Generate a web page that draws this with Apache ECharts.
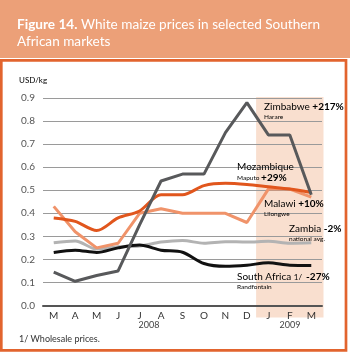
<!DOCTYPE html>
<html>
<head>
<meta charset="utf-8">
<script src="https://cdn.jsdelivr.net/npm/echarts@6/dist/echarts.min.js"></script>
<style>
  html, body { margin: 0; padding: 0; background: #fff; }
  #chart { width: 350px; height: 353px; }
</style>
</head>
<body>
<div id="chart"></div>
<script>
  // months Mar 2008 - Mar 2009
  var months = ['M', 'A', 'M', 'J', 'J', 'A', 'S', 'O', 'N', 'D', 'J', 'F', 'M'];
  var years = ['2008', '2009'];
  var yTicks = [0, 0.1, 0.2, 0.3, 0.4, 0.5, 0.6, 0.7, 0.8, 0.9];

  // USD/kg
  var zimbabwe    = [0.145, 0.105, 0.13, 0.15, 0.35, 0.54, 0.57, 0.57, 0.75, 0.88, 0.74, 0.74, 0.48];
  var mozambique  = [0.38, 0.365, 0.325, 0.38, 0.41, 0.48, 0.48, 0.52, 0.53, 0.525, 0.515, 0.505, 0.49];
  var malawi      = [0.43, 0.32, 0.25, 0.27, 0.40, 0.42, 0.40, 0.40, 0.40, 0.36, 0.505, 0.505, 0.47];
  var zambia      = [0.272, 0.28, 0.245, 0.255, 0.258, 0.275, 0.282, 0.27, 0.277, 0.275, 0.279, 0.27, 0.272];
  var southAfrica = [0.23, 0.24, 0.23, 0.25, 0.262, 0.24, 0.231, 0.182, 0.17, 0.175, 0.185, 0.175, 0.174];

  // shaded 2009 months (category index range)
  var shade2009 = [[10, 12]];

  var chart = echarts.init(document.getElementById('chart'));
  var font = 'Lato, "Noto Sans", sans-serif';

  function line(name, data, color, smooth, z) {
    return {
      name: name, type: 'line', data: data, symbol: 'none', smooth: smooth, z: z,
      lineStyle: { color: color, width: 3 }
    };
  }

  function label(x, y, rich, text) {
    return { type: 'text', x: x, y: y, z: 50,
      style: { text: text, verticalAlign: 'middle', fontFamily: font, rich: rich } };
  }

  var lab = {
    n: { fontSize: 10, color: '#3a3a3a', fontFamily: font },
    b: { fontSize: 10, color: '#222', fontWeight: 'bold', fontFamily: font },
    s: { fontSize: 6.5, color: '#333', fontFamily: font },
    f: { fontSize: 8, color: '#333', fontFamily: font }
  };

  chart.setOption({
    animation: false,
    title: {
      text: '{b|Figure 14.} White maize prices in selected Southern\nAfrican markets',
      left: 12, top: 11,
      textStyle: {
        color: '#fff', fontSize: 13.6, fontWeight: 'normal', fontFamily: font, lineHeight: 17,
        rich: { b: { color: '#fff', fontSize: 13.6, fontWeight: 'bold', fontFamily: font, lineHeight: 17 } }
      }
    },
    grid: { left: 43, right: 28, top: 98, bottom: 47.5 },
    xAxis: {
      type: 'category', data: months, boundaryGap: true,
      axisLine: { lineStyle: { color: '#555', width: 2 } },
      axisTick: { inside: true, alignWithLabel: true, length: 5, lineStyle: { color: '#555', width: 1 } },
      axisLabel: { color: '#333', fontSize: 10, fontFamily: font, margin: 5 }
    },
    yAxis: {
      type: 'value', min: 0, max: 0.9, interval: 0.1,
      axisLine: { show: false }, axisTick: { show: false },
      splitLine: { lineStyle: { color: '#9a9a9a', width: 1 } },
      axisLabel: { color: '#555', fontSize: 10, fontFamily: font, margin: 8,
        formatter: function (v) { return v.toFixed(1); } }
    },
    series: [
      {
        type: 'custom', data: shade2009, z: -10, clip: false, silent: true,
        renderItem: function (params, api) {
          var a = api.coord([api.value(0), 0.9]);
          var b = api.coord([api.value(1), 0]);
          var bw = api.size([1, 0])[0];
          return {
            type: 'rect',
            shape: { x: a[0] - bw / 2 - 1.5, y: a[1] - 1, width: b[0] - a[0] + bw + 3, height: b[1] - a[1] + 13 },
            style: { fill: '#f9dfcf' }
          };
        }
      },
      line('Zambia', zambia, '#b3b3b3', 0.3, 3),
      line('South Africa', southAfrica, '#111', 0.3, 4),
      line('Malawi', malawi, '#f0936a', false, 5),
      line('Mozambique', mozambique, '#e1561d', 0.3, 6),
      line('Zimbabwe', zimbabwe, '#58595b', false, 7)
    ],
    graphic: [
      { type: 'rect', z: -30, shape: { x: 0, y: 0, width: 350, height: 58 }, style: { fill: '#eca078' } },
      { type: 'rect', z: -30, shape: { x: 1.3, y: 60.3, width: 344.7, height: 290 },
        style: { fill: 'none', stroke: '#e2642e', lineWidth: 2.7 } },
      label(19, 80, lab, '{f|USD/kg}'),
      label(264, 107, lab, '{n|Zimbabwe }{b|+217%}'),
      label(264, 116.5, lab, '{s|Harare}'),
      label(237, 167, lab, '{n|Mozambique}'),
      label(237, 178, lab, '{s|Maputo }{b|+29%}'),
      label(264, 204, lab, '{n|Malawi }{b|+10%}'),
      label(264, 213.5, lab, '{s|Lilongwe}'),
      label(289, 229, lab, '{n|Zambia }{b|-2%}'),
      label(289, 239, lab, '{s|national avg.}'),
      label(237, 277, lab, '{n|South Africa }{f|1/  }{b|-27%}'),
      label(237, 286.5, lab, '{s|Randfontain}'),
      { type: 'text', x: 149, y: 325, z: 50, style: { text: years[0], align: 'center', verticalAlign: 'middle', fontSize: 9, fill: '#444', fontFamily: font } },
      { type: 'text', x: 290, y: 325, z: 50, style: { text: years[1], align: 'center', verticalAlign: 'middle', fontSize: 9, fill: '#444', fontFamily: font } },
      { type: 'text', x: 19, y: 339, z: 50, style: { text: '1/ Wholesale prices.', verticalAlign: 'middle', fontSize: 9, fill: '#333', fontFamily: font } }
    ]
  });
</script>
</body>
</html>
